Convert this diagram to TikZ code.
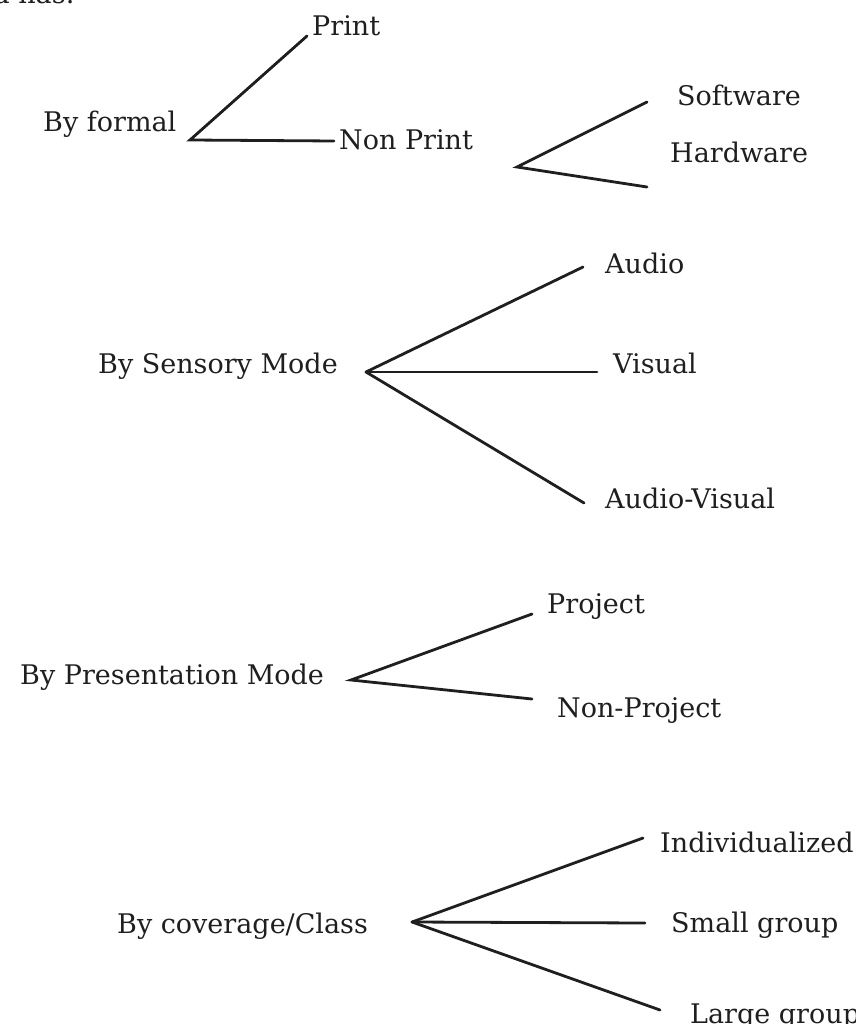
\documentclass[tikz,border=0pt]{standalone}
\usepackage{fontspec}
\setmainfont{DejaVu Serif}
\begin{document}
\begin{tikzpicture}[x=1pt,y=-1pt,
  lbl/.style={inner sep=0pt, anchor=base west, text=black!88,
    font=\fontsize{27}{31}\selectfont},
  branch/.style={line width=2.8pt, draw=black!88, line cap=round}]
\useasboundingbox (0,0) rectangle (855,1024);
\clip (0,0) rectangle (855,1024);

% running text above the chart
\node[lbl, anchor=base east] (lead) at (75,4) {media has:};

% by format
\node[lbl] (formal)   at (43,132)  {By formal};
\node[lbl] (print)    at (312,36)  {Print};
\node[lbl] (nonprint) at (339,150) {Non Print};
\node[lbl] (software) at (677,106) {Software};
\node[lbl] (hardware) at (670,163) {Hardware};
\coordinate (vf)  at (190,140);
\coordinate (pe)  at (307,36);
\coordinate (npe) at (334,141);
\coordinate (vn)  at (517,167);
\coordinate (swe) at (647,102);
\coordinate (hwe) at (647,187);
\draw[branch] (pe) -- (vf) -- (npe);
\draw[branch] (swe) -- (vn) -- (hwe);

% by sensory mode
\node[lbl] (sensory) at (98,373)  {By Sensory Mode};
\node[lbl] (audio)   at (605,273) {Audio};
\node[lbl] (visual)  at (613,373) {Visual};
\node[lbl] (av)      at (605,508) {Audio-Visual};
\coordinate (vs)  at (366,372);
\coordinate (ae)  at (583,267);
\coordinate (ve)  at (597,372);
\coordinate (ave) at (584,503);
\draw[branch] (vs) -- (ae);
\draw[branch] (vs) -- (ve);
\draw[branch] (vs) -- (ave);

% by presentation mode
\node[lbl] (presentation) at (20,684)  {By Presentation Mode};
\node[lbl] (project)      at (547,613) {Project};
\node[lbl] (nonproject)   at (557,717) {Non-Project};
\coordinate (vp)   at (351,680);
\coordinate (pje)  at (532,614);
\coordinate (npje) at (532,699);
\draw[branch] (pje) -- (vp) -- (npje);

% by coverage / class
\node[lbl] (coverage) at (117,933) {By coverage/Class};
\node[lbl] (indiv)    at (660,852) {Individualized};
\node[lbl] (small)    at (671,932) {Small group};
\node[lbl] (large)    at (690,1023) {Large group};
\coordinate (vc)  at (412,922);
\coordinate (ie)  at (643,838);
\coordinate (sge) at (645,923);
\coordinate (lge) at (660,1010);
\draw[branch] (vc) -- (ie);
\draw[branch] (vc) -- (sge);
\draw[branch] (vc) -- (lge);
\end{tikzpicture}
\end{document}
